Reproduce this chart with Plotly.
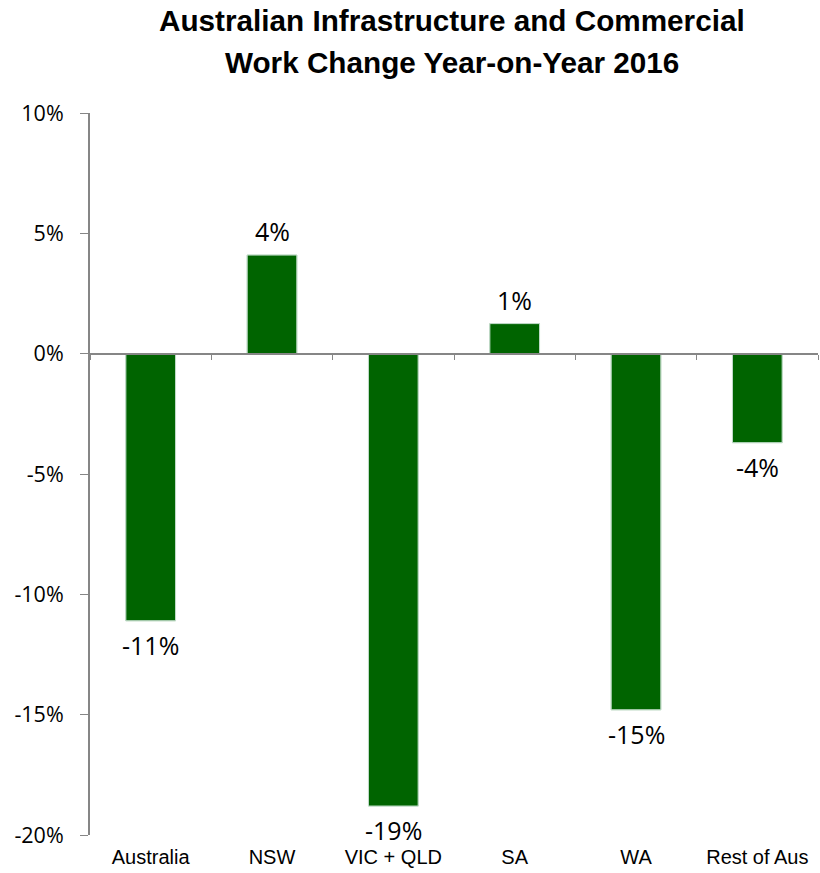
import plotly.graph_objects as go

# Year-on-year change in infrastructure and commercial work, 2016
regions = ["Australia", "NSW", "VIC + QLD", "SA", "WA", "Rest of Aus"]
change = [-0.111, 0.041, -0.188, 0.0125, -0.148, -0.037]

y_ticks = [-0.20, -0.15, -0.10, -0.05, 0.0, 0.05, 0.10]
y_tick_labels = ["-20%", "-15%", "-10%", "-5%", "0%", "5%", "10%"]

title_lines = ["Australian Infrastructure and Commercial", "Work Change Year-on-Year 2016"]

y_min, y_max = -0.20, 0.10
bar_green = "#006400"
axis_grey = "#868686"


def pct_label(v):
    # whole-percent label with a plain hyphen for negatives
    return f"{round(v * 100):.0f}%"


fig = go.Figure()

fig.add_trace(go.Bar(
    x=regions,
    y=change,
    width=0.41,
    marker=dict(color=bar_green, line=dict(color="#9cc89c", width=1)),
    hoverinfo="skip",
))

# invisible copy that carries the category axis drawn along the zero line
fig.add_trace(go.Bar(
    x=regions,
    y=change,
    width=0.41,
    xaxis="x2",
    marker=dict(color="rgba(0,0,0,0)"),
    hoverinfo="skip",
    showlegend=False,
))

# value labels just beyond the end of each bar
for r, v in zip(regions, change):
    fig.add_annotation(
        x=r, y=v, xref="x", yref="y",
        text=pct_label(v),
        showarrow=False,
        yanchor="middle",
        yshift=24 if v >= 0 else -24,
        font=dict(family="Open Sans", size=25, color="#000000"),
    )

# two-line title
for text, ypos in zip(title_lines, [1.1288, 1.0706]):
    fig.add_annotation(
        x=0.4966, y=ypos, xref="paper", yref="paper",
        text=f"<b>{text}</b>",
        showarrow=False,
        xanchor="center", yanchor="middle",
        font=dict(family="Liberation Sans", size=29.7, color="#000000"),
    )

zero_pos = (0 - y_min) / (y_max - y_min)

fig.update_layout(
    width=820,
    height=873,
    margin=dict(l=90, r=2, t=113, b=38),
    paper_bgcolor="white",
    plot_bgcolor="white",
    showlegend=False,
    xaxis=dict(
        type="category",
        showline=False,
        ticks="",
        showgrid=False,
        zeroline=False,
        tickfont=dict(family="Liberation Sans", size=20, color="#000000"),
        ticklabelstandoff=8,
    ),
    xaxis2=dict(
        type="category",
        overlaying="x",
        matches="x",
        anchor="free",
        position=zero_pos,
        side="bottom",
        showline=True,
        linecolor=axis_grey,
        linewidth=2,
        ticks="outside",
        tickson="boundaries",
        ticklen=5,
        tickcolor=axis_grey,
        tickwidth=1,
        showticklabels=False,
        showgrid=False,
        zeroline=False,
    ),
    yaxis=dict(
        range=[y_min, y_max],
        tickmode="array",
        tickvals=y_ticks,
        ticktext=y_tick_labels,
        showgrid=False,
        zeroline=False,
        showline=True,
        linecolor=axis_grey,
        linewidth=2,
        ticks="outside",
        ticklen=8,
        tickcolor=axis_grey,
        tickwidth=1,
        tickfont=dict(family="Open Sans", size=21.5, color="#000000"),
        ticklabelstandoff=12,
    ),
)

fig.write_html("out.html")
